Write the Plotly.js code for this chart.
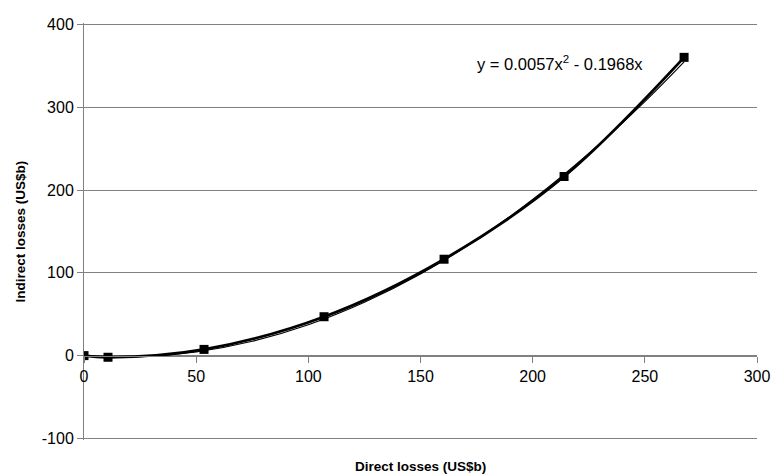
<!DOCTYPE html>
<html><head><meta charset="utf-8">
<script src="https://cdn.plot.ly/plotly-3.0.1.min.js"></script>
<style>html,body{margin:0;padding:0;background:#fff}#c{width:772px;height:474px}</style>
</head><body><div id="c"></div>
<script>
const directLosses = [0, 10.7, 53.5, 107, 160.5, 214, 267.5];
const indirectLosses = [0, -2, 7.5, 47, 116.5, 216.5, 360.5];
const trendX = [0, 25, 50, 75, 100, 125, 150, 175, 200, 225, 250, 267.5];
const trendY = [0, -1.4, 4.4, 17.3, 37.3, 64.5, 98.7, 140.1, 188.6, 244.3, 307, 355];
const xTicks = [0, 50, 100, 150, 200, 250, 300];
const yTicks = [-100, 0, 100, 200, 300, 400];
const equationText = 'y = 0.0057x<sup>2</sup> - 0.1968x';

const fam = 'Liberation Sans, Arial, sans-serif';
const tickFont = {family: fam, size: 16, color: '#000'};
const eqFont = {family: fam, size: 16.5, color: '#000'};
const titleFont = {family: fam, size: 13.5, color: '#000'};
const data = [
  {x: trendX, y: trendY, mode: 'lines', type: 'scatter', line: {color: '#000', width: 1.2, shape: 'spline'}, hoverinfo: 'skip'},
  {x: directLosses, y: indirectLosses, mode: 'lines+markers', type: 'scatter',
   line: {color: '#000', width: 2.8, shape: 'spline'},
   marker: {symbol: 'square', size: 9, color: '#000'}}
];
const layout = {
  width: 772, height: 474,
  margin: {l: 84, r: 15, t: 23, b: 34},
  paper_bgcolor: '#fff', plot_bgcolor: '#fff',
  showlegend: false, font: tickFont,
  xaxis: {range: [0, 300], tickvals: xTicks, ticktext: xTicks.map(String),
    anchor: 'free', position: 102 / 504, showline: true, linecolor: '#808080', linewidth: 1,
    ticks: 'outside', ticklen: 6, tickcolor: '#808080', showgrid: false, zeroline: false,
    tickfont: tickFont},
  yaxis: {range: [-102, 402], tickvals: yTicks, ticktext: yTicks.map(String),
    showline: true, linecolor: '#808080', linewidth: 1, ticks: 'outside', ticklen: 6,
    tickcolor: '#808080', showgrid: true, gridcolor: '#808080', gridwidth: 1,
    zeroline: false, tickfont: tickFont},
  annotations: [
    {text: equationText, x: 212, y: 354, xref: 'x', yref: 'y', showarrow: false,
     xanchor: 'center', yanchor: 'middle', font: eqFont},
    {text: '<b>Direct losses (US$b)</b>', xref: 'paper', yref: 'paper', x: 0.5, y: 0,
     xanchor: 'center', yanchor: 'middle', yshift: -26, showarrow: false, font: titleFont},
    {text: '<b>Indirect losses (US$b)</b>', xref: 'paper', yref: 'paper', x: 0, y: 0.5,
     xanchor: 'center', yanchor: 'middle', xshift: -64, textangle: -90, showarrow: false, font: titleFont}
  ]
};
Plotly.newPlot('c', data, layout, {displayModeBar: false, staticPlot: true});
</script></body></html>
